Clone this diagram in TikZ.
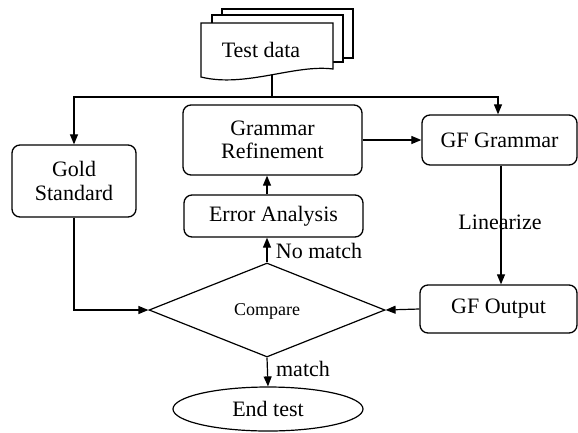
\documentclass[tikz,border=0pt]{standalone}
\usepackage{fontspec}
\setmainfont{Liberation Serif}
\usetikzlibrary{shapes.geometric,arrows.meta,calc}
\begin{document}
\begin{tikzpicture}[x=1pt,y=-1pt,
  box/.style={draw, rounded corners=8pt, line width=1.3pt, align=center,
    font=\fontsize{22}{23.5}\selectfont, inner sep=0pt},
  arr/.style={-{Triangle[length=10pt,width=8pt]}, line width=1.2pt},
  ln/.style={line width=1.2pt},
  lbl/.style={font=\fontsize{22}{23.5}\selectfont, inner sep=0pt},
  docsheet/.style={draw, line width=1.2pt, fill=white}
]
\useasboundingbox (0,0) rectangle (578,432);
% document stack
\path[docsheet] (222,9) rectangle (353,58);
\path[docsheet] (212,15) rectangle (343,62);
\path[docsheet] (201,23) -- (333,23) -- (333,69)
   .. controls (295,64) and (245,88) .. (201,77) -- cycle;
\node[lbl] (doc) at (261,50) {Test data};
\coordinate (docb) at (272,75);
\coordinate (j) at (272,97);

% boxes
\node[box, minimum width=124pt, minimum height=72pt] (gold) at (74,181) {Gold\\Standard};
\node[box, minimum width=179pt, minimum height=70pt] (refine) at (272.5,140) {Grammar\\Refinement};
\node[box, minimum width=155pt, minimum height=50pt] (gfg) at (499.5,140) {GF Grammar};
\node[box, minimum width=179pt, minimum height=42pt] (err) at (273.5,216) {Error Analysis};
\node[draw, diamond, aspect=2.5, line width=1.2pt, minimum width=236pt, minimum height=94pt,
  inner sep=0pt] (dia) at (267,310) {};
\node[font=\fontsize{18}{20}\selectfont, inner sep=0pt] (cmp) at (267,311) {Compare};
\node[box, minimum width=157pt, minimum height=48pt] (gfo) at (498.5,309) {GF Output};
\node[draw, ellipse, line width=1.2pt, minimum width=190pt, minimum height=44pt,
  inner sep=0pt, font=\fontsize{22}{23.5}\selectfont] (endt) at (268,409) {End test};

% connectors
\draw[ln] (docb) -- (j);
\draw[arr] (j) -| (gold.north);
\draw[arr] (j) -| ($(gfg.north)+(-1.5,0)$);
\draw[arr] (refine.east) -- (gfg.west);
\draw[arr] (err.north -| dia.north) -- (refine.south -| dia.north);
\draw[arr] (dia.north) -- (err.south -| dia.north);
\node[lbl] (nomatch) at (319,251) {No match};
\draw[arr] (gold.south) |- (dia.west);
\draw[arr] (gfo.west) -- (dia.east);
\draw[arr] ($(gfg.south)+(1.5,0)$) -- ($(gfo.north)+(2.5,0)$);
\node[lbl] (lin) at (500,222) {Linearize};
\draw[arr] (dia.south) -- (endt.north);
\node[lbl] (match) at (303,369) {match};
\end{tikzpicture}
\end{document}
